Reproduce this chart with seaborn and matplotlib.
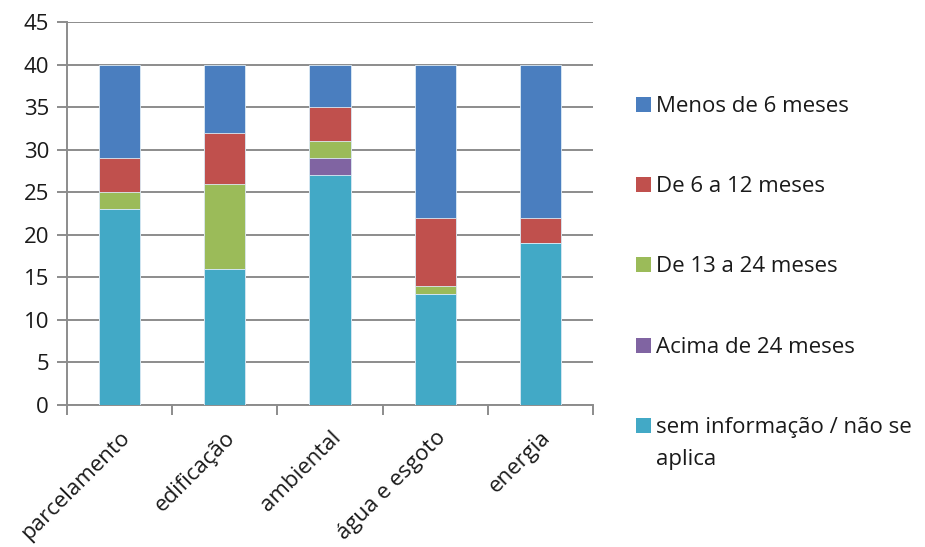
import matplotlib
matplotlib.use("Agg")
import matplotlib.pyplot as plt
from matplotlib.patches import Rectangle
import numpy as np
import pandas as pd
import seaborn as sns

# Data: number of municipalities per licensing area and time bracket
categories = ["parcelamento", "edificação", "ambiental", "água e esgoto", "energia"]
sem_informacao = [23, 16, 27, 13, 19]
acima_24 = [0, 0, 2, 0, 0]
de_13_a_24 = [2, 10, 2, 1, 0]
de_6_a_12 = [4, 6, 4, 8, 3]
menos_6 = [11, 8, 5, 18, 18]

series_labels = ["sem informação / não se\naplica", "Acima de 24 meses",
                 "De 13 a 24 meses", "De 6 a 12 meses", "Menos de 6 meses"]
series_values = [sem_informacao, acima_24, de_13_a_24, de_6_a_12, menos_6]
series_colors = ["#42A9C6", "#8064A2", "#9BBB59", "#C0504D", "#4A7EBF"]
y_ticks = list(range(0, 50, 5))

sns.set_theme(style="white")
plt.rcParams["font.family"] = ["Open Sans", "DejaVu Sans"]

fig = plt.figure(figsize=(9.25, 5.47), dpi=100)
ax = fig.add_axes([67 / 925, 1 - 405 / 547, 526 / 925, 383 / 547])

# cumulative stacks, drawn from the tallest down so each segment shows
cum = np.cumsum(np.array(series_values), axis=0)
for i in range(len(series_values) - 1, -1, -1):
    df = pd.DataFrame({"cat": categories, "val": cum[i]})
    sns.barplot(data=df, x="cat", y="val", color=series_colors[i], saturation=1,
                width=0.39, edgecolor="#DDEBF5", linewidth=0.6, ax=ax, zorder=3)

ax.set_xlim(-0.5, 4.5)
ax.set_ylim(0, 45)
ax.set_yticks(y_ticks)
ax.set_yticklabels([str(t) for t in y_ticks], fontsize=16, color="#1a1a1a")
ax.set_xlabel("")
ax.set_ylabel("")
ax.grid(axis="y", color="#8C8C8C", linewidth=1.4, zorder=0)
ax.set_axisbelow(True)

for side in ["top", "right"]:
    ax.spines[side].set_visible(False)
for side in ["left", "bottom"]:
    ax.spines[side].set_color("#8C8C8C")
    ax.spines[side].set_linewidth(1.4)

ax.tick_params(axis="y", which="major", left=True, length=7, width=1.4,
               color="#8C8C8C", pad=6)
ax.set_xticks(range(len(categories)))
ax.set_xticklabels(categories, fontsize=16, rotation=45, ha="right",
                   rotation_mode="anchor", color="#1a1a1a")
ax.tick_params(axis="x", which="major", length=0, pad=16)
ax.set_xticks(np.arange(-0.5, 5.0, 1.0), minor=True)
ax.tick_params(axis="x", which="minor", bottom=True, length=7, width=1.4,
               color="#8C8C8C")

# legend on the right, top entry first (pixel baselines)
legend_rows = [(4, 112), (3, 192), (2, 272), (1, 353), (0, 433)]
for idx, base in legend_rows:
    fig.patches.append(Rectangle((636 / 925, 1 - base / 547), 15 / 925, 15 / 547,
                                 transform=fig.transFigure,
                                 facecolor=series_colors[idx], edgecolor="none"))
    first, *rest = series_labels[idx].split("\n")
    fig.text(656 / 925, 1 - base / 547, first, fontsize=16,
             va="baseline", ha="left", color="#1a1a1a")
    for k, line in enumerate(rest, start=1):
        fig.text(656 / 925, 1 - (base + 32 * k) / 547, line, fontsize=16,
                 va="baseline", ha="left", color="#1a1a1a")

fig.savefig("out.png", dpi=100)
